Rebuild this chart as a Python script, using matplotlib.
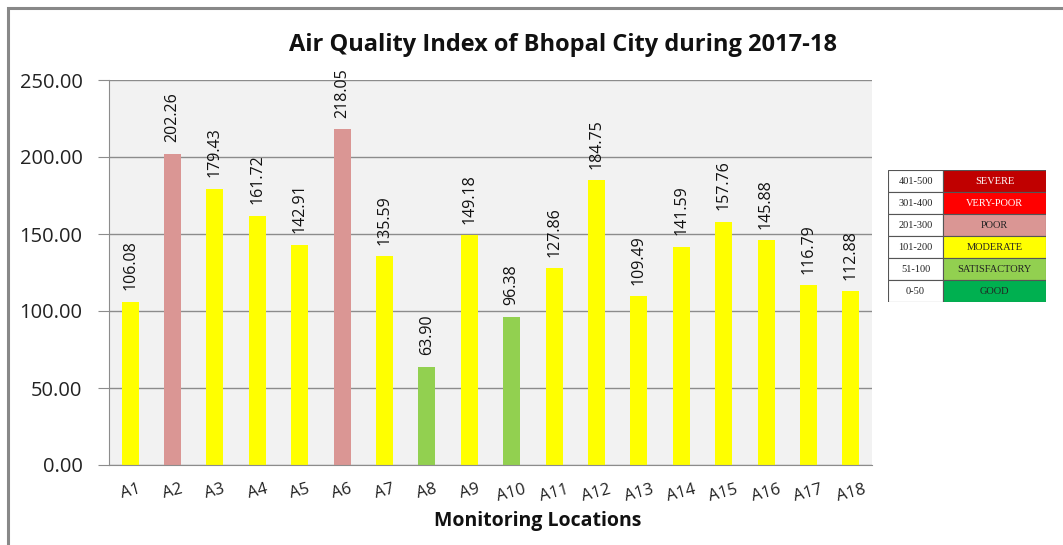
import matplotlib
matplotlib.use("Agg")
from matplotlib import pyplot as plt
from matplotlib.patches import Rectangle
import numpy as np

locations = ["A1", "A2", "A3", "A4", "A5", "A6", "A7", "A8", "A9",
             "A10", "A11", "A12", "A13", "A14", "A15", "A16", "A17", "A18"]
aqi = [106.08, 202.26, 179.43, 161.72, 142.91, 218.05, 135.59, 63.90, 149.18,
       96.38, 127.86, 184.75, 109.49, 141.59, 157.76, 145.88, 116.79, 112.88]

# category table shown at the right
ranges = ["401-500", "301-400", "201-300", "101-200", "51-100", "0-50"]
categories = ["SEVERE", "VERY-POOR", "POOR", "MODERATE", "SATISFACTORY", "GOOD"]
cat_colors = ["#c00000", "#ff0000", "#da9694", "#ffff00", "#92d050", "#00b050"]
cat_text = ["white", "white", "#222222", "#222222", "#222222", "#222222"]
lower = [401, 301, 201, 101, 51, 0]


def bar_color(v):
    for lo, c in zip(lower, cat_colors):
        if v >= lo:
            return c
    return cat_colors[-1]


fig = plt.figure(figsize=(10.63, 5.45), dpi=100)
# outer chart frame (cut off at right and bottom)
fig.patches.append(Rectangle((8 / 1063, -0.05), 1.1, 1 - 8 / 545 + 0.05,
                             transform=fig.transFigure, fill=False,
                             edgecolor="#888888", linewidth=2.2))

ax = fig.add_axes([109 / 1063, 80 / 545, (872 - 109) / 1063, (465 - 80) / 545])
ax.set_facecolor("#f2f2f2")
x = np.arange(len(locations))
ax.bar(x, aqi, width=0.4, color=[bar_color(v) for v in aqi], zorder=2)
for xi, v in zip(x, aqi):
    ax.text(xi, v + 7.5, "%.2f" % v, rotation=90, ha="center", va="bottom",
            fontsize=11.5, family="Open Sans", color="#111111", clip_on=False,
            zorder=3)

ax.set_xlim(-0.5, len(locations) - 0.5)
ax.set_ylim(0, 250)
ax.set_yticks(np.arange(0, 251, 50))
ax.set_yticklabels(["%.2f" % t for t in np.arange(0, 251, 50)],
                   fontsize=14.5, family="Open Sans", color="#222222")
ax.yaxis.grid(True, color="#8c8c8c", linewidth=1, zorder=0)
ax.set_axisbelow(True)
ax.tick_params(axis="y", length=8, color="#8c8c8c", pad=11)
ax.set_xticks(x)
ax.set_xticklabels(locations, rotation=15, fontsize=12, family="Open Sans",
                   color="#222222")
ax.tick_params(axis="x", length=0, pad=12)
for s in ["top", "right"]:
    ax.spines[s].set_visible(False)
for s in ["left", "bottom"]:
    ax.spines[s].set_color("#8c8c8c")

fig.text(563 / 1063, 1 - 45 / 545, "Air Quality Index of Bhopal City during 2017-18",
         ha="center", va="center", fontsize=17, fontweight="bold",
         family="Open Sans", color="#111111")
fig.text(538 / 1063, 1 - 521 / 545, "Monitoring Locations", ha="center",
         va="center", fontsize=14, fontweight="bold", family="Open Sans",
         color="#111111")

# category table
tab = fig.add_axes([888 / 1063, 1 - 302 / 545, (1046 - 888) / 1063, (302 - 170) / 545])
tab.set_xlim(0, 158)
tab.set_ylim(len(ranges), 0)
tab.axis("off")
for i, (r, c, col, tc) in enumerate(zip(ranges, categories, cat_colors, cat_text)):
    tab.add_patch(Rectangle((0, i), 55, 1, facecolor="white", edgecolor="#555555", lw=0.8))
    tab.add_patch(Rectangle((55, i), 103, 1, facecolor=col, edgecolor="#555555", lw=0.8))
    tab.text(27.5, i + 0.52, r, ha="center", va="center", fontsize=7.5,
             family="Liberation Serif", color="#222222")
    tab.text(106.5, i + 0.52, c, ha="center", va="center", fontsize=7.5,
             family="Liberation Serif", color=tc)

fig.savefig("out.png", dpi=100)
